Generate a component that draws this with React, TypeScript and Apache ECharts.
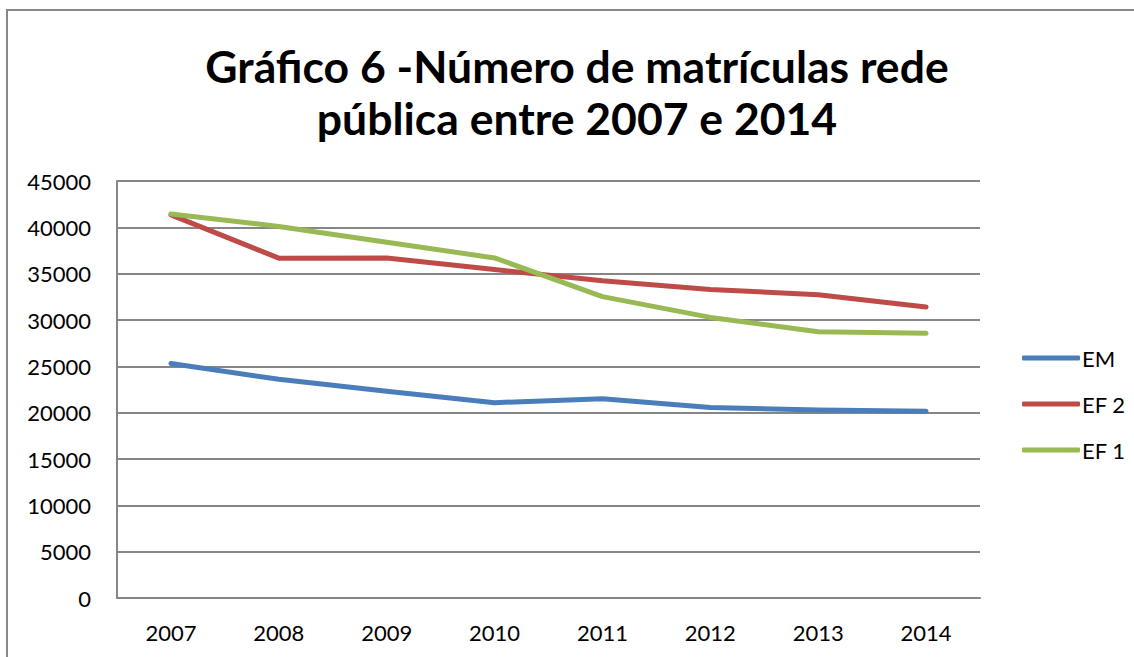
import React, { useEffect, useRef } from "react";
import * as echarts from "echarts";

const years = ["2007", "2008", "2009", "2010", "2011", "2012", "2013", "2014"];
const emValues = [25300, 23600, 22300, 21080, 21500, 20570, 20290, 20140];
const ef2Values = [41350, 36670, 36700, 35440, 34240, 33300, 32730, 31400];
const ef1Values = [41450, 40100, 38400, 36700, 32520, 30280, 28740, 28560];

const seriesNames = ["EM", "EF 2", "EF 1"];
const seriesColors = ["#4A7EBB", "#BE4B48", "#98B954"];
const titleText = "Gráfico 6 -Número de matrículas rede\npública entre 2007 e 2014";

export default function App() {
  const ref = useRef<HTMLDivElement>(null);
  useEffect(() => {
    document.body.style.margin = "0";
    const chart = echarts.init(ref.current!, null, { renderer: "svg" });
    const font = "Lato, 'Open Sans', sans-serif";
    const data = [emValues, ef2Values, ef1Values];
    chart.setOption({
      animation: false,
      backgroundColor: "#ffffff",
      legend: {
        orient: "vertical",
        left: 1017,
        top: 341,
        itemWidth: 58,
        itemHeight: 5,
        itemGap: 22,
        icon: "roundRect",
        data: seriesNames,
        textStyle: {
          fontFamily: font,
          fontSize: 22,
          lineHeight: 24,
          color: "#000",
          padding: [0, 0, 0, -3],
        },
      },
      grid: { left: 117, right: 154, top: 181, bottom: 59, containLabel: false },
      xAxis: {
        type: "category",
        data: years,
        boundaryGap: true,
        axisLine: { lineStyle: { color: "#868686", width: 2 } },
        axisTick: { show: false },
        axisLabel: { fontFamily: font, fontSize: 22, color: "#000", margin: 23 },
      },
      yAxis: {
        type: "value",
        min: 0,
        max: 45000,
        interval: 5000,
        axisLine: { show: true, lineStyle: { color: "#868686", width: 2 } },
        axisTick: { show: false },
        axisLabel: {
          fontFamily: font,
          fontSize: 22,
          color: "#000",
          margin: 26,
          formatter: (v: number) => String(v),
        },
        splitLine: { lineStyle: { color: "#868686", width: 2 } },
      },
      graphic: [
        {
          type: "polyline",
          shape: { points: [[7, 657], [7, 10], [1134, 10]] },
          style: { stroke: "#888888", lineWidth: 2, fill: "none" },
        },
        {
          type: "text",
          x: 577,
          y: 39,
          style: {
            text: titleText,
            textAlign: "center",
            textVerticalAlign: "top",
            fontFamily: font,
            fontWeight: "bold",
            fontSize: 44.5,
            lineHeight: 52,
            fill: "#000",
          },
        },
      ],
      series: seriesNames.map((n, i) => ({
        name: n,
        type: "line",
        data: data[i],
        symbol: "none",
        color: seriesColors[i],
        lineStyle: { color: seriesColors[i], width: 5, cap: "round", join: "round" },
        itemStyle: { color: seriesColors[i] },
      })),
    });
    return () => chart.dispose();
  }, []);
  return <div ref={ref} style={{ width: 1134, height: 657 }} />;
}
